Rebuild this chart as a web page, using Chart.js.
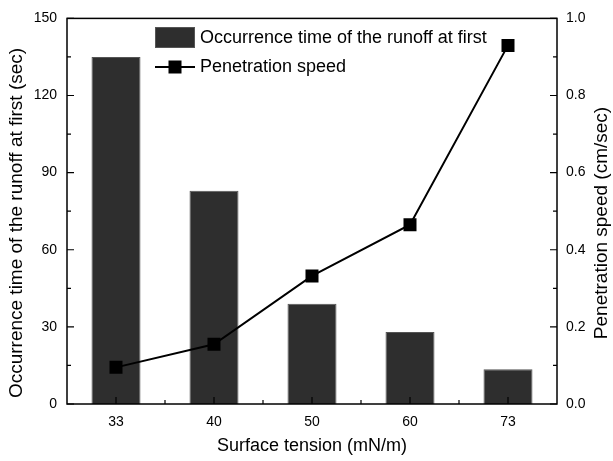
<!DOCTYPE html>
<html>
<head>
<meta charset="utf-8">
<script src="https://cdn.jsdelivr.net/npm/chart.js@4.4.0/dist/chart.umd.min.js"></script>
<style>
  html, body { margin: 0; padding: 0; background: #fff; }
  #wrap { width: 613px; height: 461px; position: relative; }
</style>
</head>
<body>
<div id="wrap"><canvas id="c" width="613" height="461"></canvas></div>
<script>
const categories = ['33', '40', '50', '60', '73'];
const runoffTime = [135, 83, 39, 28, 13.5];
const penetrationSpeed = [0.095, 0.155, 0.332, 0.465, 0.93];
const leftTicks = [0, 30, 60, 90, 120, 150];
const rightTicks = [0.0, 0.2, 0.4, 0.6, 0.8, 1.0];
const barLabel = 'Occurrence time of the runoff at first';
const lineLabel = 'Penetration speed';
const xTitle = 'Surface tension (mN/m)';
const leftTitle = 'Occurrence time of the runoff at first (sec)';
const rightTitle = 'Penetration speed (cm/sec)';

const FONT = '"Liberation Sans", Arial, sans-serif';

const framePlugin = {
  id: 'frame',
  afterDatasetsDraw(chart) {
    const {ctx, chartArea: a, scales} = chart;
    ctx.save();
    ctx.strokeStyle = '#000';
    ctx.lineWidth = 1.5;
    ctx.strokeRect(a.left, a.top, a.right - a.left, a.bottom - a.top);
    ctx.lineWidth = 1.2;
    ctx.beginPath();
    const xs = scales.x;
    categories.forEach((c, i) => {
      const px = xs.getPixelForValue(i);
      ctx.moveTo(px, a.bottom); ctx.lineTo(px, a.bottom - 7);
      if (i < categories.length - 1) {
        const mx = (px + xs.getPixelForValue(i + 1)) / 2;
        ctx.moveTo(mx, a.bottom); ctx.lineTo(mx, a.bottom - 4);
      }
    });
    const ys = scales.y;
    for (let i = 0; i < leftTicks.length; i++) {
      const py = ys.getPixelForValue(leftTicks[i]);
      ctx.moveTo(a.left, py); ctx.lineTo(a.left + 7, py);
      if (i < leftTicks.length - 1) {
        const my = ys.getPixelForValue((leftTicks[i] + leftTicks[i + 1]) / 2);
        ctx.moveTo(a.left, my); ctx.lineTo(a.left + 4, my);
      }
    }
    const y1 = scales.y1;
    for (let i = 0; i < rightTicks.length; i++) {
      const py = y1.getPixelForValue(rightTicks[i]);
      ctx.moveTo(a.right, py); ctx.lineTo(a.right - 7, py);
      if (i < rightTicks.length - 1) {
        const my = y1.getPixelForValue((rightTicks[i] + rightTicks[i + 1]) / 2);
        ctx.moveTo(a.right, my); ctx.lineTo(a.right - 4, my);
      }
    }
    ctx.stroke();
    ctx.restore();

    // y titles (both read bottom to top)
    const titleY = 223;
    ctx.save();
    ctx.fillStyle = '#000';
    ctx.font = '19px ' + FONT;
    ctx.textAlign = 'center';
    ctx.textBaseline = 'middle';
    ctx.translate(17, titleY);
    ctx.rotate(-Math.PI / 2);
    ctx.fillText(leftTitle, 0, 0);
    ctx.restore();
    ctx.save();
    ctx.fillStyle = '#000';
    ctx.font = '19px ' + FONT;
    ctx.textAlign = 'center';
    ctx.textBaseline = 'middle';
    ctx.translate(602, titleY);
    ctx.rotate(-Math.PI / 2);
    ctx.fillText(rightTitle, 0, 0);
    ctx.restore();

    // legend inside plot
    ctx.save();
    const ds = chart.data.datasets;
    const bar = ds.find(d => d.type === 'bar');
    const line = ds.find(d => d.type === 'line');
    const lx = 155, lw = 40;
    ctx.fillStyle = bar.backgroundColor;
    ctx.strokeStyle = bar.borderColor;
    ctx.lineWidth = 1;
    ctx.fillRect(lx, 27, lw, 21);
    ctx.strokeRect(lx + 0.5, 27.5, lw - 1, 20);
    ctx.strokeStyle = line.borderColor;
    ctx.lineWidth = 2;
    ctx.beginPath();
    ctx.moveTo(lx, 67); ctx.lineTo(lx + lw, 67);
    ctx.stroke();
    ctx.fillStyle = line.pointBackgroundColor;
    ctx.fillRect(lx + lw / 2 - 6.5, 67 - 6.5, 13, 13);
    ctx.fillStyle = '#000';
    ctx.font = '18px ' + FONT;
    ctx.textAlign = 'left';
    ctx.textBaseline = 'middle';
    ctx.fillText(bar.label, 200, 38);
    ctx.fillText(line.label, 200, 67);
    ctx.restore();
  }
};

new Chart(document.getElementById('c'), {
  data: {
    labels: categories,
    datasets: [
      {
        type: 'line',
        label: lineLabel,
        data: penetrationSpeed,
        yAxisID: 'y1',
        borderColor: '#000',
        borderWidth: 2,
        pointStyle: 'rect',
        pointRadius: 9.2,
        pointBackgroundColor: '#000',
        pointBorderColor: '#000',
        pointBorderWidth: 0,
        tension: 0,
        order: 0
      },
      {
        type: 'bar',
        label: barLabel,
        data: runoffTime,
        yAxisID: 'y',
        backgroundColor: '#2e2e2e',
        borderColor: '#555',
        borderWidth: 1,
        barPercentage: 0.5,
        categoryPercentage: 1.0,
        order: 1
      }
    ]
  },
  options: {
    responsive: false,
    animation: false,
    layout: { padding: { top: 18, left: 0, right: 0, bottom: 0 } },
    plugins: { legend: { display: false }, tooltip: { enabled: false } },
    scales: {
      x: {
        type: 'category',
        offset: true,
        grid: { display: false, drawTicks: false },
        border: { display: false },
        ticks: { color: '#000', font: { family: FONT, size: 14 }, padding: 10, maxRotation: 0 },
        title: { display: true, text: xTitle, color: '#000', font: { family: FONT, size: 18 }, padding: { top: 2, bottom: 4 } },
        afterFit(s) { s.height = 57; }
      },
      y: {
        position: 'left',
        min: 0, max: 150,
        afterBuildTicks(s) { s.ticks = leftTicks.map(v => ({ value: v })); },
        grid: { display: false, drawTicks: false },
        border: { display: false },
        ticks: { color: '#000', font: { family: FONT, size: 14 }, padding: 10 },
        afterFit(s) { s.width = 67; }
      },
      y1: {
        position: 'right',
        min: 0, max: 1,
        afterBuildTicks(s) { s.ticks = rightTicks.map(v => ({ value: v })); },
        grid: { display: false, drawTicks: false },
        border: { display: false },
        ticks: { color: '#000', font: { family: FONT, size: 14 }, padding: 9, callback: v => Number(v).toFixed(1) },
        afterFit(s) { s.width = 56; }
      }
    }
  },
  plugins: [framePlugin]
});
</script>
</body>
</html>
